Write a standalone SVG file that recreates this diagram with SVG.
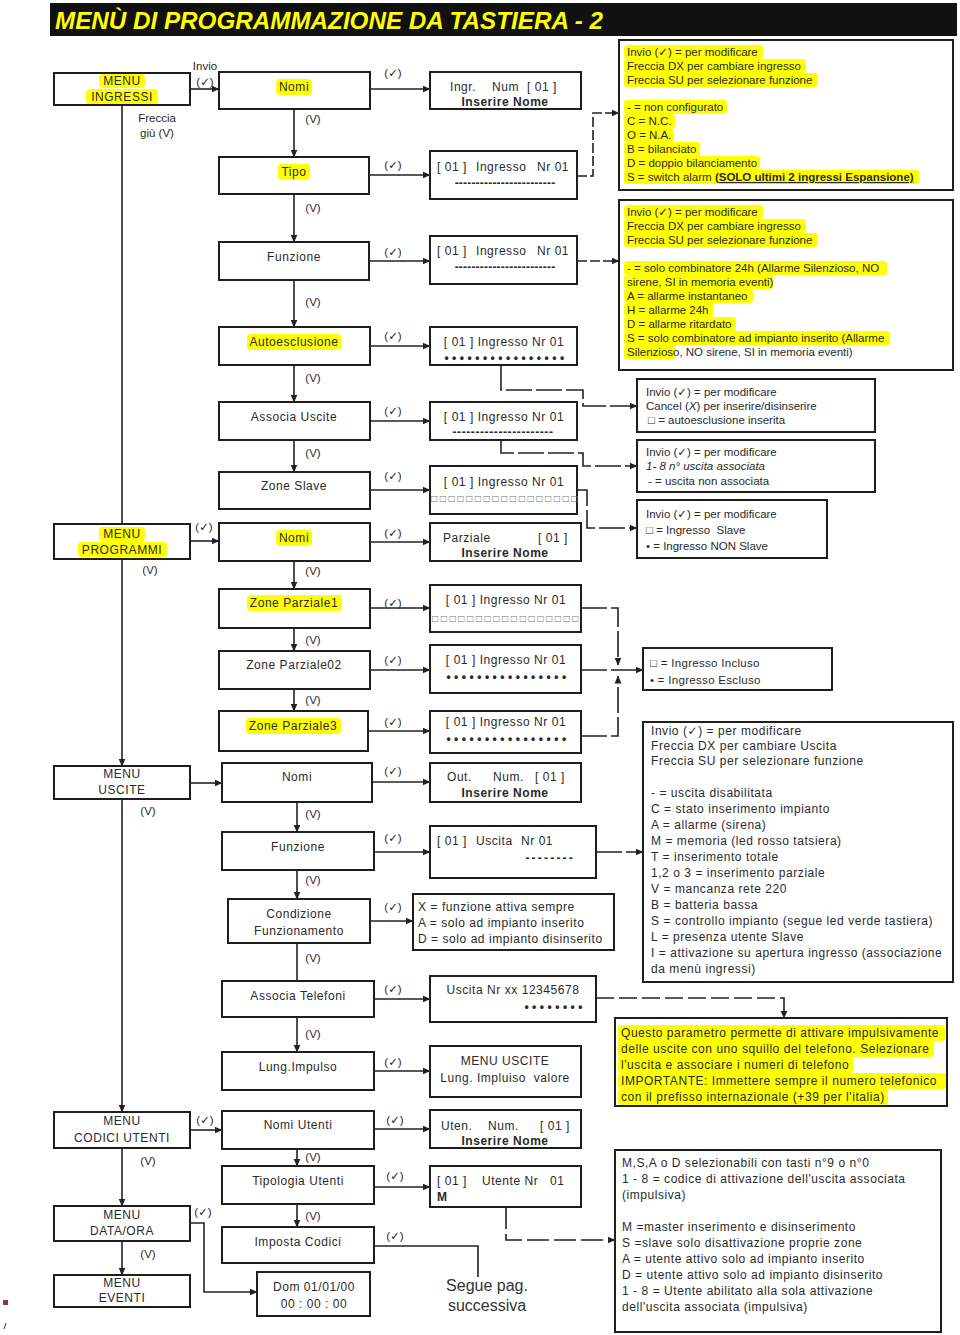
<svg xmlns="http://www.w3.org/2000/svg" width="960" height="1335" viewBox="0 0 960 1335">
<defs>
<marker id="ah" markerWidth="8" markerHeight="8" refX="7.5" refY="4" orient="auto" markerUnits="userSpaceOnUse"><path d="M0,0.5 L8,4 L0,7.5 z" fill="#222"/></marker>
<style>
.bx{fill:#fff;stroke:#1e1e1e;stroke-width:2}
.t{font-family:"Liberation Sans",Arial,"DejaVu Sans",sans-serif;font-size:12px;letter-spacing:0.55px;fill:#2a2a2a}
.m{text-anchor:middle}
.e{text-anchor:end}
.b{font-weight:bold}
.s{font-size:11.5px;letter-spacing:0}
.lb{font-family:"Liberation Sans","DejaVu Sans",sans-serif;font-size:11.5px;text-anchor:middle;fill:#2a2a2a}
.dots{font-size:12px;letter-spacing:3.5px;font-weight:bold}
.sq{font-family:"DejaVu Sans",sans-serif;font-size:8px;letter-spacing:1.2px;fill:#777}
.hl{fill:#ffff00}
.c{fill:none;stroke:#222;stroke-width:1.6}
.d{stroke-dasharray:26 4}
</style>
</defs>
<rect width="960" height="1335" fill="#fff"/>
<g id="title">
<rect x="50" y="3" width="907" height="33" fill="#111"/>
<text x="55" y="29" font-family="Liberation Sans, Arial, sans-serif" font-weight="bold" font-style="italic" font-size="24" textLength="548" lengthAdjust="spacingAndGlyphs" fill="#ffff00">MENÙ DI PROGRAMMAZIONE DA TASTIERA - 2</text>
</g>

<g id="connectors">
<line class="c" x1="122" y1="105" x2="122" y2="766" marker-end="url(#ah)"/>
<line class="c" x1="122" y1="799" x2="122" y2="1112" marker-end="url(#ah)"/>
<line class="c" x1="122" y1="1148" x2="122" y2="1206" marker-end="url(#ah)"/>
<line class="c" x1="122" y1="1241" x2="122" y2="1275" marker-end="url(#ah)"/>
<line class="c" x1="190" y1="89" x2="219" y2="89" marker-end="url(#ah)"/>
<line class="c" x1="190" y1="541" x2="219" y2="541" marker-end="url(#ah)"/>
<line class="c" x1="190" y1="783" x2="222" y2="783" marker-end="url(#ah)"/>
<line class="c" x1="190" y1="1130" x2="222" y2="1130" marker-end="url(#ah)"/>
<polyline class="c" points="190,1223 204,1223 204,1292 257,1292" marker-end="url(#ah)"/>
<line class="c" x1="294" y1="109" x2="294" y2="157" marker-end="url(#ah)"/>
<line class="c" x1="294" y1="194" x2="294" y2="242" marker-end="url(#ah)"/>
<line class="c" x1="294" y1="280" x2="294" y2="327" marker-end="url(#ah)"/>
<line class="c" x1="294" y1="365" x2="294" y2="402" marker-end="url(#ah)"/>
<line class="c" x1="294" y1="440" x2="294" y2="472" marker-end="url(#ah)"/>
<line class="c" x1="294" y1="561" x2="294" y2="589" marker-end="url(#ah)"/>
<line class="c" x1="294" y1="628" x2="294" y2="651" marker-end="url(#ah)"/>
<line class="c" x1="294" y1="689" x2="294" y2="711" marker-end="url(#ah)"/>
<line class="c" x1="297" y1="802" x2="297" y2="832" marker-end="url(#ah)"/>
<line class="c" x1="297" y1="870" x2="297" y2="899" marker-end="url(#ah)"/>
<line class="c" x1="297" y1="943" x2="297" y2="981"/>
<line class="c" x1="297" y1="1017" x2="297" y2="1052" marker-end="url(#ah)"/>
<line class="c" x1="297" y1="1149" x2="297" y2="1166" marker-end="url(#ah)"/>
<line class="c" x1="297" y1="1204" x2="297" y2="1227" marker-end="url(#ah)"/>
<line class="c" x1="370" y1="89" x2="430" y2="89" marker-end="url(#ah)"/>
<line class="c" x1="369" y1="175" x2="430" y2="175" marker-end="url(#ah)"/>
<line class="c" x1="369" y1="261" x2="430" y2="261" marker-end="url(#ah)"/>
<line class="c" x1="370" y1="346" x2="430" y2="346" marker-end="url(#ah)"/>
<line class="c" x1="370" y1="421" x2="430" y2="421" marker-end="url(#ah)"/>
<line class="c" x1="370" y1="490" x2="430" y2="490" marker-end="url(#ah)"/>
<line class="c" x1="370" y1="542" x2="430" y2="542" marker-end="url(#ah)"/>
<line class="c" x1="370" y1="608" x2="430" y2="608" marker-end="url(#ah)"/>
<line class="c" x1="370" y1="670" x2="430" y2="670" marker-end="url(#ah)"/>
<line class="c" x1="368" y1="731" x2="430" y2="731" marker-end="url(#ah)"/>
<line class="c" x1="372" y1="782" x2="430" y2="782" marker-end="url(#ah)"/>
<line class="c" x1="374" y1="852" x2="430" y2="852" marker-end="url(#ah)"/>
<line class="c" x1="370" y1="921" x2="413" y2="921" marker-end="url(#ah)"/>
<line class="c" x1="374" y1="999" x2="430" y2="999" marker-end="url(#ah)"/>
<line class="c" x1="374" y1="1071" x2="430" y2="1071" marker-end="url(#ah)"/>
<line class="c" x1="374" y1="1129" x2="430" y2="1129" marker-end="url(#ah)"/>
<line class="c" x1="374" y1="1187" x2="430" y2="1187" marker-end="url(#ah)"/>
<polyline class="c" style="stroke-dasharray:10 3" points="577,176 593,176 593,113 619,113" marker-end="url(#ah)"/>
<line class="c" style="stroke-dasharray:10 3" x1="577" y1="261" x2="619" y2="261" marker-end="url(#ah)"/>
<polyline class="c d" points="501,365 501,390 583,390 583,406 637,406" marker-end="url(#ah)"/>
<polyline class="c d" points="501,440 501,453 583,453 583,466 637,466" marker-end="url(#ah)"/>
<polyline class="c d" points="577,490 587,490 587,528 637,528" marker-end="url(#ah)"/>
<polyline class="c d" points="581,608 618,608 618,665" marker-end="url(#ah)"/>
<line class="c d" x1="581" y1="670" x2="643" y2="670" marker-end="url(#ah)"/>
<polyline class="c d" points="581,736 618,736 618,676" marker-end="url(#ah)"/>
<line class="c d" x1="596" y1="852" x2="643" y2="852" marker-end="url(#ah)"/>
<polyline class="c" style="stroke-dasharray:18 5" points="596,998 784,998 784,1018" marker-end="url(#ah)"/>
<polyline class="c" style="stroke-dasharray:22 5" points="506,1207 506,1240 615,1240" marker-end="url(#ah)"/>
<polyline class="c" points="374,1246 478,1246 478,1277"/>
</g>

<g id="labels">
<text class="lb" x="205" y="70">Invio</text>
<text class="lb" x="205" y="86">(✓)</text>
<text class="lb" x="157" y="122">Freccia</text>
<text class="lb" x="157" y="137">giù (V)</text>
<text class="lb" x="393" y="77">(✓)</text>
<text class="lb" x="393" y="169">(✓)</text>
<text class="lb" x="393" y="256">(✓)</text>
<text class="lb" x="393" y="340">(✓)</text>
<text class="lb" x="393" y="415">(✓)</text>
<text class="lb" x="393" y="480">(✓)</text>
<text class="lb" x="204" y="531">(✓)</text>
<text class="lb" x="393" y="537">(✓)</text>
<text class="lb" x="393" y="607">(✓)</text>
<text class="lb" x="393" y="664">(✓)</text>
<text class="lb" x="393" y="726">(✓)</text>
<text class="lb" x="393" y="775">(✓)</text>
<text class="lb" x="393" y="842">(✓)</text>
<text class="lb" x="393" y="911">(✓)</text>
<text class="lb" x="393" y="993">(✓)</text>
<text class="lb" x="393" y="1066">(✓)</text>
<text class="lb" x="205" y="1124">(✓)</text>
<text class="lb" x="395" y="1124">(✓)</text>
<text class="lb" x="395" y="1180">(✓)</text>
<text class="lb" x="203" y="1216">(✓)</text>
<text class="lb" x="395" y="1240">(✓)</text>
<text class="lb" x="313" y="123">(V)</text>
<text class="lb" x="313" y="212">(V)</text>
<text class="lb" x="313" y="306">(V)</text>
<text class="lb" x="313" y="382">(V)</text>
<text class="lb" x="313" y="457">(V)</text>
<text class="lb" x="313" y="575">(V)</text>
<text class="lb" x="313" y="644">(V)</text>
<text class="lb" x="313" y="704">(V)</text>
<text class="lb" x="313" y="818">(V)</text>
<text class="lb" x="313" y="884">(V)</text>
<text class="lb" x="313" y="962">(V)</text>
<text class="lb" x="313" y="1038">(V)</text>
<text class="lb" x="313" y="1161">(V)</text>
<text class="lb" x="313" y="1220">(V)</text>
<text class="lb" x="150" y="574">(V)</text>
<text class="lb" x="148" y="815">(V)</text>
<text class="lb" x="148" y="1165">(V)</text>
<text class="lb" x="148" y="1258">(V)</text>
</g>

<g id="menu_ingressi"><rect class="bx" x="54" y="73" width="136" height="32"/><rect class="hl" x="99" y="74" width="46" height="14" rx="4"/><rect class="hl" x="86" y="89" width="72" height="15" rx="4"/><text class="t m" x="122" y="85">MENU</text><text class="t m" x="122" y="101">INGRESSI</text></g>
<g id="menu_programmi"><rect class="bx" x="54" y="524" width="136" height="35"/><rect class="hl" x="99" y="527" width="46" height="14" rx="4"/><rect class="hl" x="78" y="542" width="89" height="15" rx="4"/><text class="t m" x="122" y="538">MENU</text><text class="t m" x="122" y="554">PROGRAMMI</text></g>
<g id="menu_uscite"><rect class="bx" x="54" y="766" width="136" height="33"/><text class="t m" x="122" y="778">MENU</text><text class="t m" x="122" y="794">USCITE</text></g>
<g id="menu_codici"><rect class="bx" x="54" y="1112" width="136" height="36"/><text class="t m" x="122" y="1125">MENU</text><text class="t m" x="122" y="1142">CODICI UTENTI</text></g>
<g id="menu_dataora"><rect class="bx" x="54" y="1206" width="136" height="35"/><text class="t m" x="122" y="1219">MENU</text><text class="t m" x="122" y="1235">DATA/ORA</text></g>
<g id="menu_eventi"><rect class="bx" x="54" y="1275" width="136" height="32"/><text class="t m" x="122" y="1287">MENU</text><text class="t m" x="122" y="1302">EVENTI</text></g>

<g id="ing_nomi"><rect class="bx" x="219" y="72" width="151" height="37"/><rect class="hl" x="276" y="79" width="36" height="16" rx="4"/><text class="t m" x="294" y="91">Nomi</text></g>
<g id="ing_tipo"><rect class="bx" x="219" y="157" width="150" height="37"/><rect class="hl" x="278" y="164" width="32" height="16" rx="4"/><text class="t m" x="294" y="176">Tipo</text></g>
<g id="ing_funzione"><rect class="bx" x="219" y="242" width="150" height="38"/><text class="t m" x="294" y="261">Funzione</text></g>
<g id="ing_autoesclusione"><rect class="bx" x="219" y="327" width="151" height="38"/><rect class="hl" x="247" y="334" width="94" height="16" rx="4"/><text class="t m" x="294" y="346">Autoesclusione</text></g>
<g id="ing_associa"><rect class="bx" x="219" y="402" width="151" height="38"/><text class="t m" x="294" y="421">Associa Uscite</text></g>
<g id="ing_slave"><rect class="bx" x="219" y="472" width="151" height="37"/><text class="t m" x="294" y="490">Zone Slave</text></g>
<g id="prog_nomi"><rect class="bx" x="219" y="523" width="151" height="38"/><rect class="hl" x="276" y="530" width="36" height="16" rx="4"/><text class="t m" x="294" y="542">Nomi</text></g>
<g id="prog_zp1"><rect class="bx" x="219" y="589" width="151" height="39"/><rect class="hl" x="247" y="595" width="95" height="16" rx="4"/><text class="t m" x="294" y="607">Zone Parziale1</text></g>
<g id="prog_zp2"><rect class="bx" x="219" y="651" width="151" height="38"/><text class="t m" x="294" y="669">Zone Parziale02</text></g>
<g id="prog_zp3"><rect class="bx" x="219" y="711" width="149" height="40"/><rect class="hl" x="246" y="718" width="95" height="16" rx="4"/><text class="t m" x="293" y="730">Zone Parziale3</text></g>
<g id="usc_nomi"><rect class="bx" x="222" y="763" width="150" height="39"/><text class="t m" x="297" y="781">Nomi</text></g>
<g id="usc_funzione"><rect class="bx" x="222" y="832" width="152" height="38"/><text class="t m" x="298" y="851">Funzione</text></g>
<g id="usc_condizione"><rect class="bx" x="228" y="899" width="142" height="44"/><text class="t m" x="299" y="918">Condizione</text><text class="t m" x="299" y="935">Funzionamento</text></g>
<g id="usc_telefoni"><rect class="bx" x="222" y="981" width="152" height="36"/><text class="t m" x="298" y="1000">Associa Telefoni</text></g>
<g id="usc_lung"><rect class="bx" x="222" y="1052" width="152" height="38"/><text class="t m" x="298" y="1071">Lung.Impulso</text></g>
<g id="cod_nomi"><rect class="bx" x="222" y="1111" width="152" height="38"/><text class="t m" x="298" y="1129">Nomi Utenti</text></g>
<g id="cod_tipologia"><rect class="bx" x="222" y="1166" width="152" height="38"/><text class="t m" x="298" y="1185">Tipologia Utenti</text></g>
<g id="cod_imposta"><rect class="bx" x="222" y="1227" width="152" height="36"/><text class="t m" x="298" y="1246">Imposta Codici</text></g>

<g id="d_ingr_nome"><rect class="bx" x="430" y="72" width="151" height="37"/><text class="t" y="91"><tspan x="450">Ingr.</tspan><tspan x="492">Num</tspan><tspan x="527">[ 01 ]</tspan></text><text class="t m b" x="505" y="106">Inserire Nome</text></g>
<g id="d_tipo"><rect class="bx" x="430" y="151" width="147" height="48"/><text class="t" y="171"><tspan x="437">[ 01 ]</tspan><tspan x="476">Ingresso</tspan><tspan x="537">Nr 01</tspan></text><text class="t m b" x="505" y="187" style="letter-spacing:0.2px">------------------------</text></g>
<g id="d_funzione"><rect class="bx" x="430" y="236" width="147" height="48"/><text class="t" y="255"><tspan x="437">[ 01 ]</tspan><tspan x="476">Ingresso</tspan><tspan x="537">Nr 01</tspan></text><text class="t m b" x="505" y="271" style="letter-spacing:0.2px">------------------------</text></g>
<g id="d_autoesclusione"><rect class="bx" x="430" y="327" width="147" height="38"/><text class="t m" x="504" y="346">[ 01 ] Ingresso Nr 01</text><text class="t m dots" x="506" y="362">••••••••••••••••</text></g>
<g id="d_associa"><rect class="bx" x="430" y="402" width="147" height="38"/><text class="t m" x="504" y="421">[ 01 ] Ingresso Nr 01</text><text class="t m b" x="503" y="436" style="letter-spacing:0.6px">----------------------</text></g>
<g id="d_slave"><rect class="bx" x="430" y="466" width="147" height="48"/><text class="t m" x="504" y="486">[ 01 ] Ingresso Nr 01</text><text class="sq m" x="505" y="501">□□□□□□□□□□□□□□□□□</text></g>
<g id="d_parziale"><rect class="bx" x="430" y="523" width="151" height="38"/><text class="t" y="542"><tspan x="443">Parziale</tspan><tspan x="538">[ 01 ]</tspan></text><text class="t m b" x="505" y="557">Inserire Nome</text></g>
<g id="d_zp1"><rect class="bx" x="430" y="585" width="151" height="47"/><text class="t m" x="506" y="604">[ 01 ] Ingresso Nr 01</text><text class="sq m" x="506" y="621">□□□□□□□□□□□□□□□□□</text></g>
<g id="d_zp2"><rect class="bx" x="430" y="645" width="151" height="48"/><text class="t m" x="506" y="664">[ 01 ] Ingresso Nr 01</text><text class="t m dots" x="508" y="681">••••••••••••••••</text></g>
<g id="d_zp3"><rect class="bx" x="430" y="711" width="151" height="42"/><text class="t m" x="506" y="726">[ 01 ] Ingresso Nr 01</text><text class="t m dots" x="508" y="743">••••••••••••••••</text></g>
<g id="d_out_nome"><rect class="bx" x="430" y="763" width="151" height="39"/><text class="t" y="781"><tspan x="447">Out.</tspan><tspan x="493">Num.</tspan><tspan x="535">[ 01 ]</tspan></text><text class="t m b" x="505" y="797">Inserire Nome</text></g>
<g id="d_uscita"><rect class="bx" x="430" y="826" width="166" height="52"/><text class="t" y="845"><tspan x="437">[ 01 ]</tspan><tspan x="476">Uscita</tspan><tspan x="521">Nr 01</tspan></text><text class="t e b" x="575" y="862" style="letter-spacing:2.2px">--------</text></g>
<g id="d_condizione"><rect class="bx" x="413" y="894" width="201" height="56"/><text class="t" x="418" y="911">X = funzione attiva sempre</text><text class="t" x="418" y="927">A = solo ad impianto inserito</text><text class="t" x="418" y="943">D = solo ad impianto disinserito</text></g>
<g id="d_telefoni"><rect class="bx" x="430" y="976" width="166" height="46"/><text class="t m" x="513" y="994">Uscita Nr xx 12345678</text><text class="t e dots" x="586" y="1011">••••••••</text></g>
<g id="d_lung"><rect class="bx" x="430" y="1046" width="151" height="51"/><text class="t m" x="505" y="1065">MENU USCITE</text><text class="t m" x="505" y="1082" xml:space="preserve">Lung. Impluiso  valore</text></g>
<g id="d_uten_nome"><rect class="bx" x="430" y="1110" width="151" height="38"/><text class="t" y="1130"><tspan x="441">Uten.</tspan><tspan x="488">Num.</tspan><tspan x="540">[ 01 ]</tspan></text><text class="t m b" x="505" y="1145">Inserire Nome</text></g>
<g id="d_utente"><rect class="bx" x="430" y="1166" width="151" height="41"/><text class="t" y="1185"><tspan x="437">[ 01 ]</tspan><tspan x="482">Utente Nr</tspan><tspan x="550">01</tspan></text><text class="t b" x="437" y="1201">M</text></g>
<g id="d_dataora"><rect class="bx" x="257" y="1272" width="113" height="44"/><text class="t m" x="314" y="1291">Dom 01/01/00</text><text class="t m" x="314" y="1308">00 : 00 : 00</text></g>

<g id="segue"><text font-family="Liberation Sans, Arial, sans-serif" font-size="16" fill="#333" text-anchor="middle" x="487" y="1291">Segue pag.</text><text font-family="Liberation Sans, Arial, sans-serif" font-size="16" fill="#333" text-anchor="middle" x="487" y="1311">successiva</text></g>

<g id="info_tipo">
<rect class="bx" x="619" y="40" width="334" height="150"/>
<rect class="hl" x="624" y="45" width="139" height="14" rx="3"/>
<rect class="hl" x="624" y="59" width="182" height="14" rx="3"/>
<rect class="hl" x="624" y="73" width="194" height="14" rx="3"/>
<rect class="hl" x="624" y="100" width="103" height="14" rx="3"/>
<rect class="hl" x="624" y="114" width="51" height="14" rx="3"/>
<rect class="hl" x="624" y="128" width="50" height="14" rx="3"/>
<rect class="hl" x="624" y="142" width="76" height="14" rx="3"/>
<rect class="hl" x="624" y="156" width="136" height="14" rx="3"/>
<rect class="hl" x="624" y="170" width="295" height="14" rx="3"/>
<text class="t s" x="627" y="56">Invio (✓) = per modificare</text>
<text class="t s" x="627" y="70">Freccia DX per cambiare ingresso</text>
<text class="t s" x="627" y="84">Freccia SU per selezionare funzione</text>
<text class="t s" x="627" y="111">- = non configurato</text>
<text class="t s" x="627" y="125">C = N.C.</text>
<text class="t s" x="627" y="139">O = N.A.</text>
<text class="t s" x="627" y="153">B = bilanciato</text>
<text class="t s" x="627" y="167">D = doppio bilanciamento</text>
<text class="t s" x="627" y="181">S = switch alarm <tspan font-weight="bold" text-decoration="underline">(SOLO ultimi 2 ingressi Espansione)</tspan></text>
</g>

<g id="info_funzione">
<rect class="bx" x="619" y="200" width="334" height="170"/>
<rect class="hl" x="624" y="205" width="139" height="14" rx="3"/>
<rect class="hl" x="624" y="219" width="182" height="14" rx="3"/>
<rect class="hl" x="624" y="233" width="194" height="14" rx="3"/>
<rect class="hl" x="624" y="261" width="263" height="14" rx="3"/>
<rect class="hl" x="624" y="275" width="149" height="14" rx="3"/>
<rect class="hl" x="624" y="289" width="129" height="14" rx="3"/>
<rect class="hl" x="624" y="303" width="89" height="14" rx="3"/>
<rect class="hl" x="624" y="317" width="112" height="14" rx="3"/>
<rect class="hl" x="624" y="331" width="266" height="14" rx="3"/>
<rect class="hl" x="624" y="345" width="51" height="14" rx="3"/>
<text class="t s" x="627" y="216">Invio (✓) = per modificare</text>
<text class="t s" x="627" y="230">Freccia DX per cambiare ingresso</text>
<text class="t s" x="627" y="244">Freccia SU per selezionare funzione</text>
<text class="t s" x="627" y="272">- = solo combinatore 24h (Allarme Silenzioso, NO</text>
<text class="t s" x="627" y="286">sirene, SI in memoria eventi)</text>
<text class="t s" x="627" y="300">A = allarme instantaneo</text>
<text class="t s" x="627" y="314">H = allarme 24h</text>
<text class="t s" x="627" y="328">D = allarme ritardato</text>
<text class="t s" x="627" y="342">S = solo combinatore ad impianto inserito (Allarme</text>
<text class="t s" x="627" y="356">Silenzioso, NO sirene, SI in memoria eventi)</text>
</g>

<g id="info_autoesclusione">
<rect class="bx" x="637" y="379" width="238" height="53"/>
<text class="t s" x="646" y="396">Invio (✓) = per modificare</text>
<text class="t s" x="646" y="410">Cancel (<tspan font-style="italic">X</tspan>) per inserire/disinserire</text>
<text class="t s" x="648" y="424">□ = autoesclusione inserita</text>
</g>

<g id="info_associa">
<rect class="bx" x="637" y="440" width="238" height="52"/>
<text class="t s" x="646" y="456">Invio (✓) = per modificare</text>
<text class="t s" x="646" y="470" font-style="italic">1- 8 n° uscita associata</text>
<text class="t s" x="648" y="485">- = uscita non associata</text>
</g>

<g id="info_slave">
<rect class="bx" x="637" y="500" width="190" height="58"/>
<text class="t s" x="646" y="518">Invio (✓) = per modificare</text>
<text class="t s" x="646" y="534" xml:space="preserve">□ = Ingresso  Slave</text>
<text class="t s" x="646" y="550">• = Ingresso NON Slave</text>
</g>

<g id="info_parziali">
<rect class="bx" x="643" y="648" width="189" height="42"/>
<text class="t s" x="650" y="667" style="letter-spacing:0.3px">□ = Ingresso Incluso</text>
<text class="t s" x="650" y="684" style="letter-spacing:0.3px">• = Ingresso Escluso</text>
</g>

<g id="info_uscite">
<rect class="bx" x="643" y="722" width="310" height="260"/>
<text class="t" x="651" y="735">Invio (✓) = per modificare</text>
<text class="t" x="651" y="750">Freccia DX per cambiare Uscita</text>
<text class="t" x="651" y="765">Freccia SU per selezionare funzione</text>
<text class="t" x="651" y="797">- = uscita disabilitata</text>
<text class="t" x="651" y="813">C = stato inserimento impianto</text>
<text class="t" x="651" y="829">A = allarme (sirena)</text>
<text class="t" x="651" y="845">M = memoria (led rosso tatsiera)</text>
<text class="t" x="651" y="861">T = inserimento totale</text>
<text class="t" x="651" y="877">1,2 o 3 = inserimento parziale</text>
<text class="t" x="651" y="893">V = mancanza rete 220</text>
<text class="t" x="651" y="909">B = batteria bassa</text>
<text class="t" x="651" y="925">S = controllo impianto (segue led verde tastiera)</text>
<text class="t" x="651" y="941">L = presenza utente Slave</text>
<text class="t" x="651" y="957">I = attivazione su apertura ingresso (associazione</text>
<text class="t" x="651" y="973">da menù ingressi)</text>
</g>

<g id="info_telefoni">
<rect class="bx" x="615" y="1018" width="332" height="88"/>
<rect class="hl" x="618" y="1025" width="327" height="16" rx="3"/>
<rect class="hl" x="618" y="1041" width="316" height="16" rx="3"/>
<rect class="hl" x="618" y="1057" width="235" height="16" rx="3"/>
<rect class="hl" x="618" y="1073" width="328" height="16" rx="3"/>
<rect class="hl" x="618" y="1089" width="270" height="16" rx="3"/>
<text class="t" x="621" y="1037">Questo parametro permette di attivare impulsivamente</text>
<text class="t" x="621" y="1053">delle uscite con uno squillo del telefono. Selezionare</text>
<text class="t" x="621" y="1069">l'uscita e associare i numeri di telefono</text>
<text class="t" x="621" y="1085">IMPORTANTE: Immettere sempre il numero telefonico</text>
<text class="t" x="621" y="1101">con il prefisso internazionale (+39 per l'italia)</text>
</g>

<g id="info_utenti">
<rect class="bx" x="615" y="1150" width="326" height="182"/>
<text class="t" x="622" y="1167">M,S,A o D selezionabili con tasti n°9 o n°0</text>
<text class="t" x="622" y="1183">1 - 8 = codice di attivazione dell'uscita associata</text>
<text class="t" x="622" y="1199">(impulsiva)</text>
<text class="t" x="622" y="1231">M =master inserimento e disinserimento</text>
<text class="t" x="622" y="1247">S =slave solo disattivazione proprie zone</text>
<text class="t" x="622" y="1263">A = utente attivo solo ad impianto inserito</text>
<text class="t" x="622" y="1279">D = utente attivo solo ad impianto disinserito</text>
<text class="t" x="622" y="1295">1 - 8 = Utente abilitato alla sola attivazione</text>
<text class="t" x="622" y="1311">dell'uscita associata (impulsiva)</text>
</g>

<g id="marks">
<rect x="3" y="1300" width="5" height="5" fill="#8b3a3a"/>
<line x1="4" y1="1329" x2="6" y2="1323" stroke="#333" stroke-width="1"/>
</g>
</svg>
